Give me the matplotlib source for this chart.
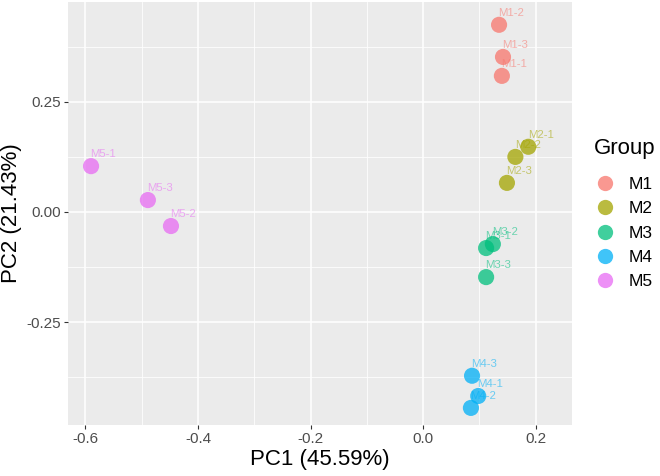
import matplotlib
matplotlib.use('Agg')
import matplotlib.pyplot as plt
from matplotlib.lines import Line2D

plt.rcParams['font.family'] = ['Liberation Sans', 'DejaVu Sans']

groups = ['M1', 'M2', 'M3', 'M4', 'M5']
colors = ['#F8766D', '#A3A500', '#00BF7D', '#00B0F6', '#E76BF3']

sample_names = [['M1-1', 'M1-2', 'M1-3'],
                ['M2-1', 'M2-2', 'M2-3'],
                ['M3-1', 'M3-2', 'M3-3'],
                ['M4-1', 'M4-2', 'M4-3'],
                ['M5-1', 'M5-2', 'M5-3']]
pc1 = [[0.140, 0.135, 0.142],
       [0.187, 0.164, 0.149],
       [0.112, 0.124, 0.112],
       [0.098, 0.085, 0.087],
       [-0.590, -0.448, -0.489]]
pc2 = [[0.309, 0.425, 0.352],
       [0.148, 0.125, 0.066],
       [-0.082, -0.073, -0.148],
       [-0.418, -0.445, -0.372],
       [0.104, -0.032, 0.027]]

fig = plt.figure(figsize=(6.6, 4.76), dpi=100)
ax = fig.add_axes([0.103, 0.107, 0.764, 0.889])
ax.set_facecolor('#EBEBEB')

# gridlines (ggplot style)
ax.set_xticks([-0.6, -0.4, -0.2, 0.0, 0.2])
ax.set_xticks([-0.5, -0.3, -0.1, 0.1], minor=True)
ax.set_yticks([-0.25, 0.0, 0.25])
ax.set_yticks([-0.375, -0.125, 0.125, 0.375], minor=True)
ax.grid(which='major', color='white', linewidth=1.1)
ax.grid(which='minor', color='white', linewidth=0.55)
ax.set_axisbelow(True)
for s in ax.spines.values():
    s.set_visible(False)

for g, col, names, xs, ys in zip(groups, colors, sample_names, pc1, pc2):
    ax.scatter(xs, ys, s=135, color=col, alpha=0.75, edgecolors='none', zorder=3)
    for n, x, y in zip(names, xs, ys):
        ax.annotate(n, (x, y), xytext=(-0.5, 8.6), textcoords='offset points',
                    ha='left', va='center', fontsize=8.2, color=col, alpha=0.55,
                    zorder=4)

ax.set_xlim(-0.631, 0.265)
ax.set_ylim(-0.484, 0.477)
ax.set_xticklabels(['-0.6', '-0.4', '-0.2', '0.0', '0.2'])
ax.set_yticklabels(['-0.25', '0.00', '0.25'])
ax.tick_params(which='major', length=3, width=0.8, color='#333333',
               labelcolor='#4D4D4D', labelsize=11, pad=2)
ax.tick_params(which='minor', length=0)
ax.set_xlabel('PC1 (45.59%)', fontsize=16, labelpad=2)
ax.set_ylabel('PC2 (21.43%)', fontsize=16, labelpad=3)

handles = [Line2D([], [], marker='o', linestyle='none', markersize=11,
                  markerfacecolor=c, markeredgecolor='none', alpha=0.75)
           for c in colors]
leg = ax.legend(handles, groups, title='Group', loc='center left',
                bbox_to_anchor=(1.03, 0.5), frameon=False, fontsize=12.5,
                title_fontsize=16, handletextpad=0.8, labelspacing=0.52,
                handlelength=1.2, borderaxespad=0)
leg._legend_box.align = 'left'
leg._legend_box.sep = 13

fig.savefig('out.png', dpi=100)
